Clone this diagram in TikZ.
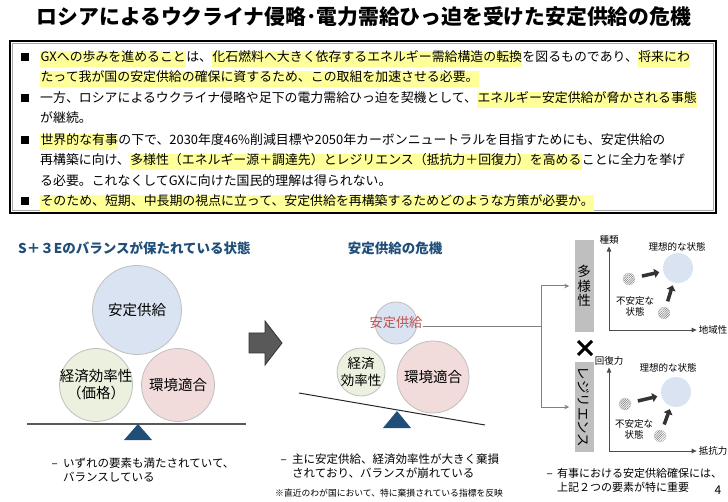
\documentclass[tikz,border=0pt]{standalone}
\usepackage{fontspec}
\setmainfont{Noto Sans CJK JP}
\usetikzlibrary{arrows.meta,patterns.meta,positioning}

\definecolor{headblue}{HTML}{1F4E79}
\definecolor{supplyblue}{HTML}{DAE3F2}
\definecolor{econgreen}{HTML}{EBF1DE}
\definecolor{envpink}{HTML}{F2DCDB}
\definecolor{hlyellow}{HTML}{FFFF99}
\definecolor{supplyred}{HTML}{C0504D}
\definecolor{barfill}{HTML}{BFBFBF}

\newcommand{\hlt}[1]{{\setlength{\fboxsep}{0.4pt}\colorbox{hlyellow}{\strut #1}}}

\tikzset{
  boxline/.style={anchor=base west, inner sep=0pt, font=\fontsize{12.9}{15}\selectfont},
  bulletbox/.style={fill=black, minimum size=8pt, inner sep=0pt},
  heading/.style={font=\fontsize{13.5}{16}\selectfont\bfseries, text=headblue, inner sep=0pt},
  ball/.style={circle, draw=black!25, line width=0.8pt, inner sep=0pt},
  balltext/.style={align=center, inner sep=0pt, font=\fontsize{14.5}{17}\selectfont},
  caption/.style={anchor=base west, inner sep=0pt, font=\fontsize{11.5}{14}\selectfont},
  bar/.style={fill=barfill, minimum width=19pt, inner sep=0pt},
  bartext/.style={inner sep=0pt, font=\fontsize{13.5}{14.5}\selectfont},
  axislabel/.style={inner sep=0pt, align=center, font=\fontsize{9.5}{11}\selectfont},
  axis/.style={draw=black!70, line width=0.8pt, -{Triangle[length=5pt,width=4.5pt]}},
  push/.style={draw=black!80, line width=3.5pt, -{Triangle[length=5pt,width=9pt]}},
  hatched/.style={circle, minimum size=12pt, inner sep=0pt, draw=black!20,
    pattern={Lines[angle=45,distance=1.6pt,line width=0.5pt]}, pattern color=black!55},
  ideal/.style={circle, minimum size=30pt, inner sep=0pt, fill=supplyblue},
  conn/.style={draw=black!50, line width=1pt},
}

\begin{document}
\begin{tikzpicture}[x=1pt, y=-1pt]
	\useasboundingbox (0,0) rectangle (728,502);
	% title
	\node[font=\fontsize{20.8}{24}\selectfont\bfseries] (title) at (364,17) {ロシアによるウクライナ侵略･電力需給ひっ迫を受けた安定供給の危機};

	% summary box
	\draw[line width=2pt] (10,41) rectangle (716,213);
	\draw[black!35, line width=1.5pt] (12.5,43.5) rectangle (713.5,210.5);
	\node[boxline] (l1) at (40,62) {\hlt{GXへの歩みを進めること}は、\hlt{化石燃料へ大きく依存するエネルギー需給構造の転換}を図るものであり、\hlt{将来にわ}};
	\node[boxline] (l2) at (40,82) {\hlt{たって我が国の安定供給の確保に資するため、この取組を加速させる必要。}};
	\node[boxline] (l3) at (40,103) {一方、ロシアによるウクライナ侵略や足下の電力需給ひっ迫を契機として、\hlt{エネルギー安定供給が脅かされる事態}};
	\node[boxline] (l4) at (40,123) {が継続。};
	\node[boxline] (l5) at (40,145) {\hlt{世界的な有事}の下で、2030年度46\%削減目標や2050年カーボンニュートラルを目指すためにも、安定供給の};
	\node[boxline] (l6) at (40,165) {再構築に向け、\hlt{多様性（エネルギー源＋調達先）とレジリエンス（抵抗力＋回復力）を高める}ことに全力を挙げ};
	\node[boxline] (l7) at (40,186) {る必要。これなくしてGXに向けた国民的理解は得られない。};
	\node[boxline] (l8) at (40,206) {\hlt{そのため、短期、中長期の視点に立って、安定供給を再構築するためどのような方策が必要か。}};
	\node[bulletbox] (b1) at ([xshift=-15pt,yshift=5pt]l1.base west) {};
	\node[bulletbox] (b2) at ([xshift=-15pt,yshift=5pt]l3.base west) {};
	\node[bulletbox] (b3) at ([xshift=-15pt,yshift=5pt]l5.base west) {};
	\node[bulletbox] (b4) at ([xshift=-15pt,yshift=5pt]l8.base west) {};

	% balanced state
	\node[heading, anchor=west] (lhead) at (18,248) {S＋３Eのバランスが保たれている状態};
	\node[ball, fill=supplyblue, minimum size=89pt] (lsupply) at (137,310) {};
	\node[ball, fill=econgreen, minimum size=73pt] (lecon) at (96,385) {};
	\node[ball, fill=envpink, minimum size=73pt] (lenv) at (178,385) {};
	\node[balltext] (lsupplytext) at (lsupply) {安定供給};
	\node[balltext] (lecontext) at (lecon) {経済効率性\\（価格）};
	\node[balltext] (lenvtext) at (lenv) {環境適合};
	\draw[black!65, line width=1.5pt] (27,424) -- (246,424);
	\fill[headblue] (138,424) -- (152,440) -- (124,440) -- cycle;
	\node[caption] (lcap1) at (63,467) {いずれの要素も満たされていて、};
	\node[caption] (lcap2) at ([yshift=-14pt]lcap1.base west) {バランスしている};
	\node[caption, anchor=base east] (ldash) at ([xshift=-5pt]lcap1.base west) {–};

	% block arrow
	\filldraw[fill=black!65, draw=black!80, line width=0.8pt] (249,333) -- (265,333) -- (265,321) -- (282,343) -- (265,365) -- (265,353) -- (249,353) -- cycle;

	% crisis
	\node[heading] (mhead) at (395,248) {安定供給の危機};
	\node[ball, fill=supplyblue, minimum size=42pt] (msupply) at (396,323) {};
	\node[ball, fill=econgreen, minimum size=48pt] (mecon) at (361,372) {};
	\node[ball, fill=envpink, minimum size=72pt] (menv) at (433,377) {};
	\node[balltext, text=supplyred, font=\fontsize{13.2}{15}\selectfont] (msupplytext) at (msupply) {安定供給};
	\node[balltext, font=\fontsize{13.5}{16.5}\selectfont] (mecontext) at (mecon) {経済\\効率性};
	\node[balltext] (menvtext) at (menv) {環境適合};
	\draw[black!85, line width=1pt] (299,393) -- (485,425);
	\fill[headblue] (397,411) -- (411,428) -- (383,428) -- cycle;
	\node[caption] (mcap1) at (292,463) {主に安定供給、経済効率性が大きく棄損};
	\node[caption] (mcap2) at ([yshift=-14pt]mcap1.base west) {されており、バランスが崩れている};
	\node[caption, anchor=base east] (mdash) at ([xshift=-5pt]mcap1.base west) {–};
	\node[anchor=west, inner sep=0pt, font=\fontsize{8.8}{10}\selectfont] (mnote) at (275,493) {※直近のわが国において、特に棄損されている指標を反映};

	% two elements
	\node[bar, minimum height=92pt] (divbar) at (584,286) {};
	\node[bartext, align=center] (divtext) at (divbar) {多\\様\\性};
	\node[bar, minimum height=90pt] (resbar) at (584,407) {};
	\node[bartext, rotate=-90] (restext) at (resbar) {レジリエンス};
	\draw[line width=3pt] (578,341) -- (592,355) (592,341) -- (578,355);
	\coordinate (split) at (541,327);
	\draw[conn] ([yshift=-4pt]msupplytext.east) -- (split);
	\draw[conn, -{Stealth[length=5pt,width=4.5pt]}] (split) |- ([xshift=-5pt]divbar.west);
	\draw[conn, -{Stealth[length=5pt,width=4.5pt]}] (split) |- ([xshift=-5pt]resbar.west);

	% diversity chart
	\coordinate (o1) at (609,330);
	\node[axislabel] (kind) at (609,240) {種類};
	\node[axislabel, anchor=east] (region) at (727.5,330) {地域性};
	\draw[axis] (o1) -- ([yshift=-2pt]kind.south);
	\draw[axis] (o1) -- ([xshift=-2pt]region.west);
	\node[axislabel] (ideal1lbl) at (677,247) {理想的な状態};
	\node[ideal] (ideal1) at (678,268) {};
	\node[hatched] (unst1a) at (629,279) {};
	\node[hatched] (unst1b) at (664,313) {};
	\node[axislabel] (unst1lbl) at (635,306) {不安定な\\状態};
	\draw[push, shorten <=7pt, shorten >=4pt] (unst1a) -- (ideal1);
	\draw[push, shorten <=6pt, shorten >=3pt] (unst1b) -- (ideal1);

	% resilience chart
	\coordinate (o2) at (609,451);
	\node[axislabel] (recov) at (609,361) {回復力};
	\node[axislabel, anchor=east] (resist) at (727.5,451) {抵抗力};
	\draw[axis] (o2) -- ([yshift=-2pt]recov.south);
	\draw[axis] (o2) -- ([xshift=-2pt]resist.west);
	\node[axislabel] (ideal2lbl) at (668,368) {理想的な状態};
	\node[ideal] (ideal2) at (676,392) {};
	\node[hatched] (unst2a) at (625,404) {};
	\node[hatched] (unst2b) at (660,436) {};
	\node[axislabel] (unst2lbl) at (634,429) {不安定な\\状態};
	\draw[push, shorten <=7pt, shorten >=4pt] (unst2a) -- (ideal2);
	\draw[push, shorten <=6pt, shorten >=3pt] (unst2b) -- (ideal2);

	\node[caption, font=\fontsize{11}{13}\selectfont] (rcap1) at (557,477) {有事における安定供給確保には、};
	\node[caption, font=\fontsize{11}{13}\selectfont] (rcap2) at ([yshift=-14pt]rcap1.base west) {上記２つの要素が特に重要};
	\node[caption, anchor=base east] (rdash) at ([xshift=-4pt]rcap1.base west) {–};
	\node[font=\fontsize{12}{14}\selectfont, inner sep=0pt] (pageno) at (718,490) {4};
\end{tikzpicture}
\end{document}
